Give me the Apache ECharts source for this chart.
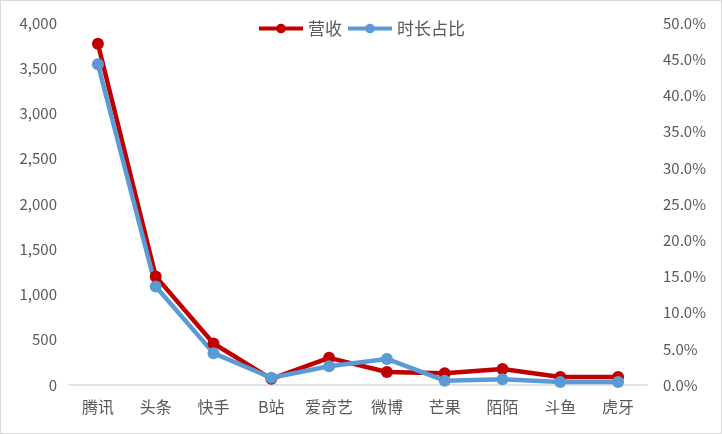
<!DOCTYPE html>
<html><head><meta charset="utf-8">
<script src="https://cdn.jsdelivr.net/npm/echarts@6/dist/echarts.min.js"></script>
<style>html,body{margin:0;padding:0;background:#fff}#c{width:722px;height:434px;box-sizing:border-box;border:1px solid #d9d9d9}</style>
</head><body><div id="c"></div>
<script>
var categories = ['腾讯','头条','快手','B站','爱奇艺','微博','芒果','陌陌','斗鱼','虎牙'];
var revenue = [3770, 1200, 459, 68, 300, 143, 130, 176, 88, 88];
var share = [44.3, 13.6, 4.4, 1.0, 2.6, 3.6, 0.6, 0.8, 0.4, 0.4];
var seriesNames = ['营收','时长占比'];
var chart = echarts.init(document.getElementById('c'));
var font = '"Noto Sans CJK SC",sans-serif';
chart.setOption({
  animation:false,
  legend:{top:14,left:'center',itemGap:4,itemWidth:44,itemHeight:12,lineStyle:{width:4},
    textStyle:{color:'#595959',fontSize:17,fontFamily:font},data:seriesNames},
  grid:{left:68,right:74,top:22,bottom:48,containLabel:false},
  xAxis:{type:'category',data:categories,axisLine:{lineStyle:{color:'#d9d9d9',width:1.5}},axisTick:{show:false},
    axisLabel:{interval:0,color:'#595959',fontSize:16,fontFamily:font,margin:14}},
  yAxis:[
    {type:'value',min:0,max:4000,interval:500,splitLine:{show:false},axisLine:{show:false},axisTick:{show:false},
     axisLabel:{color:'#595959',fontSize:15,fontFamily:font,margin:12,formatter:function(v){return v.toLocaleString('en-US');}}},
    {type:'value',min:0,max:50,interval:5,splitLine:{show:false},axisLine:{show:false},axisTick:{show:false},
     axisLabel:{color:'#595959',fontSize:15,fontFamily:font,margin:16,formatter:function(v){return v.toFixed(1)+'%';}}}
  ],
  series:[
    {name:seriesNames[0],type:'line',data:revenue,yAxisIndex:0,symbol:'circle',symbolSize:12,
     lineStyle:{color:'#c00000',width:4.5},itemStyle:{color:'#c00000'}},
    {name:seriesNames[1],type:'line',data:share,yAxisIndex:1,symbol:'circle',symbolSize:12,
     lineStyle:{color:'#5b9bd5',width:4.5},itemStyle:{color:'#5b9bd5'}}
  ]
});
</script></body></html>
